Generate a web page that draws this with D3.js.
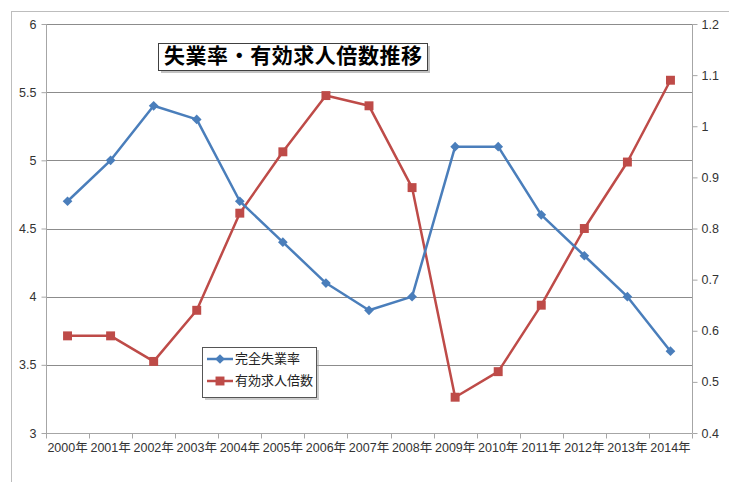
<!DOCTYPE html>
<html>
<head>
<meta charset="utf-8">
<script src="https://cdn.jsdelivr.net/npm/d3@7"></script>
<style>
  html, body { margin: 0; padding: 0; background: #fff; }
  svg { display: block; }
  text { font-family: "Liberation Sans", "Noto Sans CJK JP", sans-serif; }
</style>
</head>
<body>
<svg id="chart" width="729" height="482"></svg>
<script>
// Years on the category axis
const years = ["2000年","2001年","2002年","2003年","2004年","2005年","2006年","2007年","2008年","2009年","2010年","2011年","2012年","2013年","2014年"];
// 完全失業率 (%), left axis
const unemployment = [4.7, 5.0, 5.4, 5.3, 4.7, 4.4, 4.1, 3.9, 4.0, 5.1, 5.1, 4.6, 4.3, 4.0, 3.6];
// 有効求人倍数, right axis
const jobRatio = [0.59, 0.59, 0.54, 0.64, 0.83, 0.95, 1.06, 1.04, 0.88, 0.47, 0.52, 0.65, 0.80, 0.93, 1.09];
// Axis ticks
const leftTicks = [3, 3.5, 4, 4.5, 5, 5.5, 6];
const rightTicks = [0.4, 0.5, 0.6, 0.7, 0.8, 0.9, 1.0, 1.1, 1.2];

const seriesNames = ["完全失業率", "有効求人倍数"];
const title = "失業率・有効求人倍数推移";

const blue = "#4A7EBB";
const red = "#BE4B48";
const gridColor = "#8c8c8c";
const axisColor = "#a6a6a6";

const svg = d3.select("#chart");
const plot = { left: 46, right: 692, top: 24, bottom: 433 };

// Outer chart frame (extends past the window on right and bottom)
svg.append("rect")
  .attr("x", 11.5).attr("y", 11.5)
  .attr("width", 760).attr("height", 520)
  .attr("fill", "none").attr("stroke", "#bdbdbd").attr("stroke-width", 1);

const x = d3.scaleBand().domain(years).range([plot.left, plot.right]).padding(0);
const yL = d3.scaleLinear().domain([3, 6]).range([plot.bottom, plot.top]);
const yR = d3.scaleLinear().domain([0.4, 1.2]).range([plot.bottom, plot.top]);
const cx = d => x(d) + x.bandwidth() / 2;

// Horizontal gridlines on the left-axis ticks
svg.append("g").selectAll("line")
  .data(leftTicks.filter(t => t !== 3))
  .join("line")
  .attr("x1", plot.left).attr("x2", plot.right)
  .attr("y1", d => Math.round(yL(d)) + 0.5).attr("y2", d => Math.round(yL(d)) + 0.5)
  .attr("stroke", gridColor).attr("stroke-width", 1);

// Left axis
const leftAxis = svg.append("g")
  .attr("transform", `translate(${plot.left + 0.5},0)`)
  .call(d3.axisLeft(yL).tickValues(leftTicks).tickSize(5).tickPadding(5).tickFormat(d3.format("")));
// Right axis
const rightAxis = svg.append("g")
  .attr("transform", `translate(${plot.right + 0.5},0)`)
  .call(d3.axisRight(yR).tickValues(rightTicks).tickSize(5).tickPadding(4).tickFormat(d => d3.format("")(+d.toFixed(1))));
// Bottom axis with ticks on category boundaries
const bottomAxis = svg.append("g")
  .attr("transform", `translate(0,${plot.bottom + 0.5})`)
  .call(d3.axisBottom(x).tickSize(0).tickPadding(10));
bottomAxis.append("g").selectAll("line")
  .data(d3.range(years.length + 1))
  .join("line")
  .attr("x1", i => Math.round(plot.left + i * x.bandwidth()) + 0.5)
  .attr("x2", i => Math.round(plot.left + i * x.bandwidth()) + 0.5)
  .attr("y1", 0).attr("y2", 5)
  .attr("stroke", axisColor);

[leftAxis, rightAxis, bottomAxis].forEach(g => {
  g.select(".domain").attr("stroke", axisColor).attr("stroke-width", 1);
  g.selectAll(".tick line").attr("stroke", axisColor);
  g.selectAll("text").attr("fill", "#333").attr("font-size", 12.5);
});
rightAxis.select(".domain").attr("d", `M0,${plot.top}V${plot.bottom}`);
leftAxis.select(".domain").attr("d", `M0,${plot.top}V${plot.bottom}`);
bottomAxis.select(".domain").attr("d", `M${plot.left},0H${plot.right}`);
bottomAxis.selectAll(".tick text").attr("font-size", 12.5);

// Lines
const lineL = d3.line().x((d, i) => cx(years[i])).y(d => yL(d));
const lineR = d3.line().x((d, i) => cx(years[i])).y(d => yR(d));

svg.append("path").datum(jobRatio).attr("d", lineR)
  .attr("fill", "none").attr("stroke", red).attr("stroke-width", 2.5).attr("stroke-linejoin", "round");
svg.append("path").datum(unemployment).attr("d", lineL)
  .attr("fill", "none").attr("stroke", blue).attr("stroke-width", 2.5).attr("stroke-linejoin", "round");

const diamond = d3.symbol().type(d3.symbolDiamond2).size(60);
const square = d3.symbol().type(d3.symbolSquare).size(80);

svg.append("g").selectAll("path")
  .data(jobRatio).join("path")
  .attr("d", square)
  .attr("transform", (d, i) => `translate(${cx(years[i])},${yR(d)})`)
  .attr("fill", red);
svg.append("g").selectAll("path")
  .data(unemployment).join("path")
  .attr("d", diamond)
  .attr("transform", (d, i) => `translate(${cx(years[i])},${yL(d)})`)
  .attr("fill", blue);

// Title box with drop shadow
const tb = { x: 158, y: 43, w: 269, h: 27 };
svg.append("rect").attr("x", tb.x + 3).attr("y", tb.y + 3).attr("width", tb.w).attr("height", tb.h)
  .attr("fill", "#9a9a9a").attr("opacity", 0.6);
svg.append("rect").attr("x", tb.x + 0.5).attr("y", tb.y + 0.5).attr("width", tb.w).attr("height", tb.h)
  .attr("fill", "#fff").attr("stroke", "#404040").attr("stroke-width", 1);
svg.append("text").attr("x", tb.x + tb.w / 2 + 0.5).attr("y", tb.y + tb.h / 2 + 1)
  .attr("text-anchor", "middle").attr("dominant-baseline", "middle")
  .attr("font-size", 21).attr("font-weight", "bold").attr("fill", "#000")
  .attr("textLength", 258).attr("lengthAdjust", "spacing")
  .style("font-family", "'Noto Sans CJK JP', sans-serif")
  .text(title);

// Legend box with drop shadow
const lg = { x: 202, y: 347, w: 114, h: 50 };
svg.append("rect").attr("x", lg.x + 3).attr("y", lg.y + 3).attr("width", lg.w).attr("height", lg.h)
  .attr("fill", "#9a9a9a").attr("opacity", 0.5);
svg.append("rect").attr("x", lg.x + 0.5).attr("y", lg.y + 0.5).attr("width", lg.w).attr("height", lg.h)
  .attr("fill", "#fff").attr("stroke", "#555").attr("stroke-width", 1);
const legendItems = [
  { name: seriesNames[0], color: blue, sym: diamond, y: lg.y + 12 },
  { name: seriesNames[1], color: red, sym: square, y: lg.y + 34 }
];
legendItems.forEach(it => {
  svg.append("line").attr("x1", lg.x + 5).attr("x2", lg.x + 31).attr("y1", it.y).attr("y2", it.y)
    .attr("stroke", it.color).attr("stroke-width", 2.5);
  svg.append("path").attr("d", it.sym).attr("transform", `translate(${lg.x + 18},${it.y})`).attr("fill", it.color);
  svg.append("text").attr("x", lg.x + 33).attr("y", it.y).attr("dominant-baseline", "middle")
    .attr("font-size", 13).attr("fill", "#222")
    .style("font-family", "'Noto Sans CJK JP', sans-serif")
    .text(it.name);
});
</script>
</body>
</html>
